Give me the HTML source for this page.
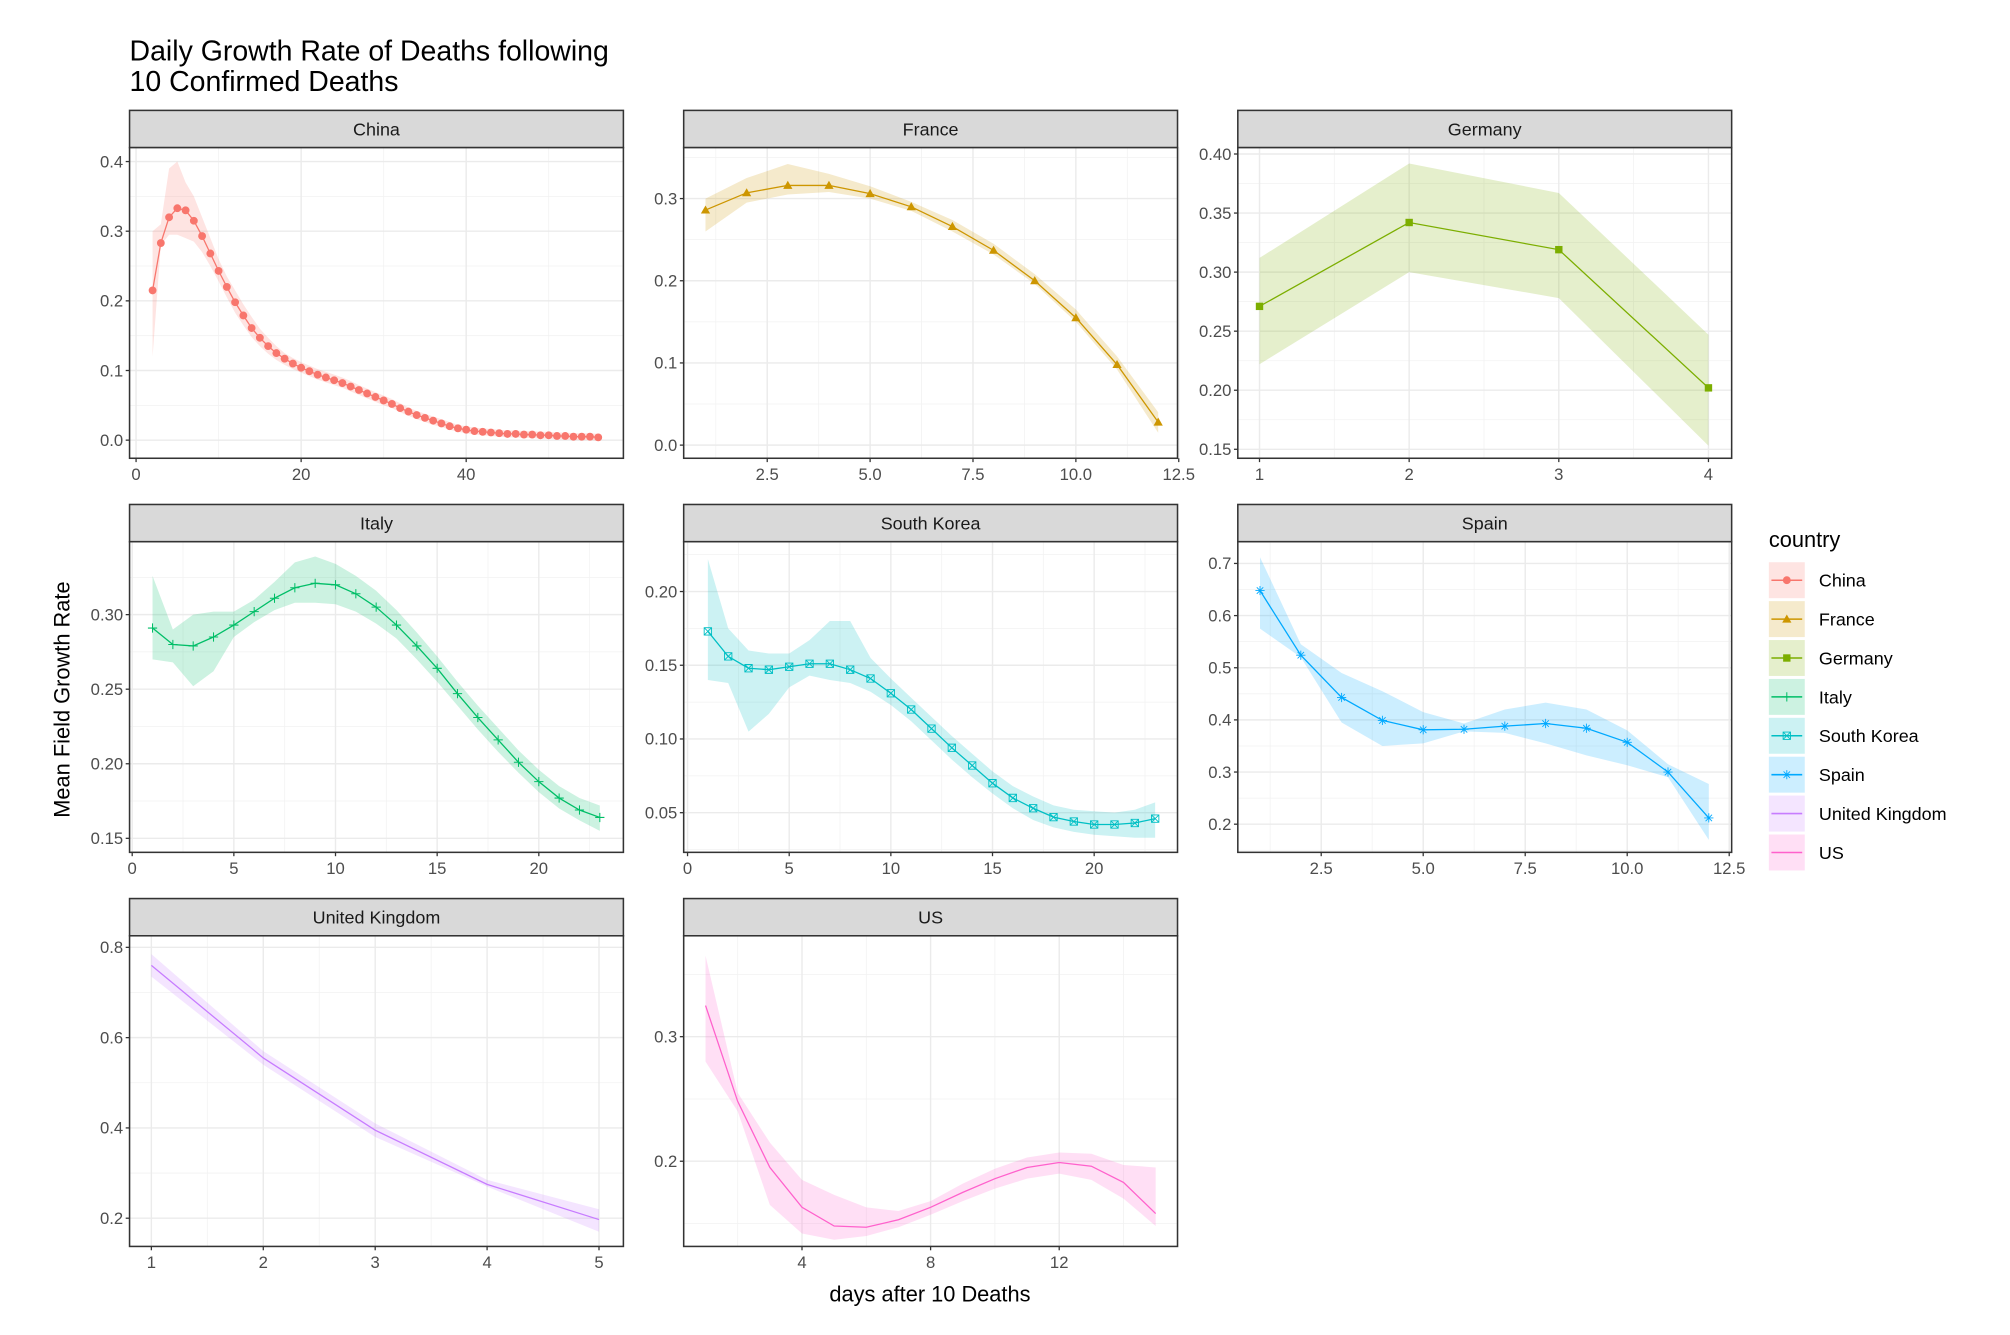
<!DOCTYPE html>
<html><head><meta charset="utf-8"><style>
html,body{margin:0;padding:0;background:#fff}
svg{display:block}
text{font-family:"Liberation Sans",Arial,sans-serif}
</style></head><body>
<svg id="chart" width="2010" height="1335" viewBox="0 0 1567 1040" preserveAspectRatio="none" xmlns="http://www.w3.org/2000/svg">
<text x="101" y="47" font-size="22.2" fill="#000">Daily Growth Rate of Deaths following</text>
<text x="101" y="71" font-size="22.2" fill="#000">10 Confirmed Deaths</text>
<text transform="translate(54,545) rotate(-90)" text-anchor="middle" font-size="17" fill="#000">Mean Field Growth Rate</text>
<text x="725" y="1014" text-anchor="middle" font-size="17" fill="#000">days after 10 Deaths</text>
<g id="panels"></g>
<g id="legend"></g>
</svg>
<script>
const countries = ["China","France","Germany","Italy","South Korea","Spain","United Kingdom","US"];
const colors = ["#F8766D","#CD9600","#7CAE00","#00BE67","#00BFC4","#00A9FF","#C77CFF","#FF61CC"];
const shapes = ["circle","triangle","square","plus","squarex","asterisk","none","none"];

const chinaX = [2,3,4,5,6,7,8,9,10,11,12,13,14,15,16,17,18,19,20,21,22,23,24,25,26,27,28,29,30,31,32,33,34,35,36,37,38,39,40,41,42,43,44,45,46,47,48,49,50,51,52,53,54,55,56];
const chinaY = [0.215,0.283,0.32,0.333,0.33,0.315,0.293,0.268,0.243,0.22,0.198,0.179,0.161,0.147,0.135,0.125,0.117,0.110,0.104,0.099,0.094,0.090,0.086,0.082,0.077,0.072,0.067,0.062,0.057,0.052,0.046,0.041,0.036,0.032,0.028,0.024,0.020,0.017,0.015,0.013,0.012,0.011,0.010,0.009,0.009,0.008,0.008,0.007,0.007,0.006,0.006,0.005,0.005,0.005,0.004];
const chinaLo = [0.12,0.28,0.295,0.295,0.29,0.285,0.27,0.25,0.228,0.205,0.183,0.165,0.148,0.135,0.124,0.115,0.108,0.102,0.097,0.092,0.087,0.083,0.079,0.075,0.070,0.065,0.060,0.055,0.050,0.046,0.040,0.035,0.030,0.026,0.022,0.019,0.015,0.012,0.010,0.008,0.007,0.006,0.005,0.004,0.004,0.003,0.003,0.002,0.002,0.001,0.001,0.0,0.0,0.0,-0.001];
const chinaHi = [0.30,0.31,0.39,0.40,0.37,0.35,0.32,0.29,0.26,0.235,0.215,0.195,0.177,0.16,0.147,0.135,0.125,0.118,0.112,0.107,0.102,0.098,0.094,0.090,0.085,0.079,0.074,0.069,0.064,0.059,0.053,0.047,0.042,0.038,0.034,0.030,0.026,0.022,0.020,0.018,0.017,0.016,0.015,0.014,0.014,0.013,0.013,0.012,0.012,0.011,0.011,0.010,0.010,0.010,0.009];

const franceX = [1,2,3,4,5,6,7,8,9,10,11,12];
const franceY = [0.286,0.307,0.316,0.316,0.306,0.290,0.266,0.237,0.200,0.155,0.098,0.028];
const franceLo = [0.26,0.295,0.305,0.308,0.30,0.285,0.26,0.232,0.196,0.15,0.092,0.015];
const franceHi = [0.30,0.325,0.342,0.33,0.315,0.296,0.274,0.245,0.208,0.165,0.108,0.04];

const germanyX = [1,2,3,4];
const germanyY = [0.271,0.342,0.319,0.202];
const germanyLo = [0.222,0.300,0.278,0.153];
const germanyHi = [0.312,0.392,0.367,0.247];

const italyX = [1,2,3,4,5,6,7,8,9,10,11,12,13,14,15,16,17,18,19,20,21,22,23];
const italyY = [0.291,0.280,0.279,0.285,0.293,0.302,0.311,0.318,0.321,0.320,0.314,0.305,0.293,0.279,0.264,0.247,0.231,0.216,0.201,0.188,0.177,0.169,0.164];
const italyLo = [0.27,0.268,0.252,0.262,0.285,0.295,0.303,0.308,0.308,0.307,0.302,0.294,0.284,0.270,0.255,0.239,0.223,0.208,0.194,0.181,0.170,0.162,0.155];
const italyHi = [0.326,0.29,0.30,0.302,0.302,0.310,0.322,0.335,0.339,0.334,0.326,0.316,0.303,0.288,0.272,0.255,0.239,0.224,0.209,0.196,0.185,0.177,0.172];

const koreaX = [1,2,3,4,5,6,7,8,9,10,11,12,13,14,15,16,17,18,19,20,21,22,23];
const koreaY = [0.173,0.156,0.148,0.147,0.149,0.151,0.151,0.147,0.141,0.131,0.120,0.107,0.094,0.082,0.070,0.060,0.053,0.047,0.044,0.042,0.042,0.043,0.046];
const koreaLo = [0.14,0.138,0.105,0.117,0.135,0.143,0.140,0.138,0.132,0.123,0.112,0.099,0.086,0.074,0.063,0.053,0.045,0.040,0.037,0.035,0.034,0.033,0.033];
const koreaHi = [0.222,0.175,0.160,0.158,0.158,0.167,0.180,0.180,0.155,0.141,0.128,0.115,0.102,0.090,0.078,0.068,0.061,0.055,0.052,0.051,0.050,0.052,0.057];

const spainX = [1,2,3,4,5,6,7,8,9,10,11,12];
const spainY = [0.648,0.524,0.443,0.399,0.381,0.382,0.388,0.393,0.384,0.357,0.300,0.212];
const spainLo = [0.575,0.52,0.395,0.35,0.355,0.378,0.375,0.355,0.332,0.313,0.29,0.17];
const spainHi = [0.712,0.545,0.49,0.455,0.415,0.393,0.42,0.433,0.42,0.38,0.315,0.277];

const ukX = [1,2,3,4,5];
const ukY = [0.76,0.555,0.395,0.275,0.197];
const ukLo = [0.735,0.54,0.38,0.27,0.17];
const ukHi = [0.785,0.57,0.41,0.285,0.22];

const usX = [1,2,3,4,5,6,7,8,9,10,11,12,13,14,15];
const usY = [0.325,0.248,0.195,0.163,0.148,0.147,0.153,0.163,0.175,0.186,0.195,0.199,0.196,0.183,0.158];
const usLo = [0.28,0.24,0.165,0.142,0.137,0.140,0.147,0.157,0.168,0.178,0.186,0.190,0.185,0.17,0.148];
const usHi = [0.365,0.255,0.215,0.185,0.173,0.163,0.160,0.168,0.182,0.194,0.203,0.207,0.206,0.197,0.195];

const xTicksChina = [0,20,40];
const xTicksTwelve = [2.5,5.0,7.5,10.0,12.5];
const xTicksGermany = [1,2,3,4];
const xTicksTwentyThree = [0,5,10,15,20];
const xTicksUK = [1,2,3,4,5];
const xTicksUS = [4,8,12];
const yTicksChina = [0.0,0.1,0.2,0.3,0.4];
const yTicksFrance = [0.0,0.1,0.2,0.3];
const yTicksGermany = [0.15,0.20,0.25,0.30,0.35,0.40];
const yTicksItaly = [0.15,0.20,0.25,0.30];
const yTicksKorea = [0.05,0.10,0.15,0.20];
const yTicksSpain = [0.2,0.3,0.4,0.5,0.6,0.7];
const yTicksUK = [0.2,0.4,0.6,0.8];
const yTicksUS = [0.2,0.3];

const panels = [
 {i:0,x:chinaX,y:chinaY,lo:chinaLo,hi:chinaHi,xd:[-0.79,59.05],yd:[-0.026,0.42],xt:xTicksChina,yt:yTicksChina,yf:1,px:101,py:115},
 {i:1,x:franceX,y:franceY,lo:franceLo,hi:franceHi,xd:[0.47,12.47],yd:[-0.016,0.362],xt:xTicksTwelve,yt:yTicksFrance,yf:1,xf:1,px:533,py:115},
 {i:2,x:germanyX,y:germanyY,lo:germanyLo,hi:germanyHi,xd:[0.855,4.155],yd:[0.1424,0.4054],xt:xTicksGermany,yt:yTicksGermany,yf:2,px:965,py:115},
 {i:3,x:italyX,y:italyY,lo:italyLo,hi:italyHi,xd:[-0.13,24.16],yd:[0.1406,0.3489],xt:xTicksTwentyThree,yt:yTicksItaly,yf:2,px:101,py:422},
 {i:4,x:koreaX,y:koreaY,lo:koreaLo,hi:koreaHi,xd:[-0.19,24.1],yd:[0.0231,0.2338],xt:xTicksTwentyThree,yt:yTicksKorea,yf:2,px:533,py:422},
 {i:5,x:spainX,y:spainY,lo:spainLo,hi:spainHi,xd:[0.456,12.56],yd:[0.146,0.7417],xt:xTicksTwelve,yt:yTicksSpain,yf:1,xf:1,px:965,py:422},
 {i:6,x:ukX,y:ukY,lo:ukLo,hi:ukHi,xd:[0.805,5.218],yd:[0.1375,0.8256],xt:xTicksUK,yt:yTicksUK,yf:1,px:101,py:729},
 {i:7,x:usX,y:usY,lo:usLo,hi:usHi,xd:[0.32,15.68],yd:[0.1316,0.381],xt:xTicksUS,yt:yTicksUS,yf:1,px:533,py:729}
];
const W=385,H=242,SH=29;
const NS="http://www.w3.org/2000/svg";
function mk(tag,attrs,parent){const e=document.createElementNS(NS,tag);for(const k in attrs)e.setAttribute(k,attrs[k]);if(parent)parent.appendChild(e);return e;}
function marker(g,shape,cx,cy,col,s){
 let e;
 if(shape==="circle"){e=mk("circle",{cx:cx,cy:cy,r:s*0.85,fill:col},g);}
 else if(shape==="triangle"){e=mk("polygon",{points:`${cx},${cy-s} ${cx-s},${cy+s*0.75} ${cx+s},${cy+s*0.75}`,fill:col},g);}
 else if(shape==="square"){e=mk("rect",{x:cx-s*0.8,y:cy-s*0.8,width:s*1.6,height:s*1.6,fill:col},g);}
 else if(shape==="plus"){e=mk("path",{d:`M${cx-s},${cy}H${cx+s}M${cx},${cy-s}V${cy+s}`,stroke:col,"stroke-width":0.8,fill:"none"},g);}
 else if(shape==="squarex"){e=mk("path",{d:`M${cx-s*0.8},${cy-s*0.8}h${s*1.6}v${s*1.6}h${-s*1.6}z M${cx-s*0.8},${cy-s*0.8}L${cx+s*0.8},${cy+s*0.8}M${cx+s*0.8},${cy-s*0.8}L${cx-s*0.8},${cy+s*0.8}`,stroke:col,"stroke-width":0.7,fill:"none"},g);}
 else if(shape==="asterisk"){e=mk("path",{d:`M${cx-s},${cy}H${cx+s}M${cx-s*0.7},${cy-s*0.7}L${cx+s*0.7},${cy+s*0.7}M${cx+s*0.7},${cy-s*0.7}L${cx-s*0.7},${cy+s*0.7}M${cx},${cy-s}V${cy+s}`,stroke:col,"stroke-width":0.7,fill:"none"},g);}
 return e;
}
const root=document.getElementById("panels");
panels.forEach(p=>{
 const name=countries[p.i].toLowerCase().replace(/ /g,"-");
 const col=colors[p.i];
 const g=mk("g",{},root);
 
 
 const top=p.py, left=p.px, bot=p.py+H, right=p.px+W;
 const sx=v=>left+(v-p.xd[0])/(p.xd[1]-p.xd[0])*W;
 const sy=v=>bot-(v-p.yd[0])/(p.yd[1]-p.yd[0])*H;
 const st=mk("rect",{x:left,y:top-SH,width:W,height:SH,fill:"#d9d9d9",stroke:"#333","stroke-width":1.2},g);
 
 
 const stt=mk("text",{x:left+W/2,y:top-SH/2+5,"text-anchor":"middle","font-size":14,fill:"#1a1a1a"},g);
 stt.textContent=countries[p.i];
 
 
 mk("rect",{x:left,y:top,width:W,height:H,fill:"#fff"},g);
 for(let k=0;k<p.yt.length+1;k++){
   const step=p.yt[1]-p.yt[0];const v=p.yt[0]-step/2+k*step;
   if(v>p.yd[0]&&v<p.yd[1]) mk("line",{x1:left,x2:right,y1:sy(v),y2:sy(v),stroke:"#f2f2f2","stroke-width":0.6},g);
 }
 for(let k=0;k<p.xt.length+1;k++){
   const step=p.xt[1]-p.xt[0];const v=p.xt[0]-step/2+k*step;
   if(v>p.xd[0]&&v<p.xd[1]) mk("line",{y1:top,y2:bot,x1:sx(v),x2:sx(v),stroke:"#f2f2f2","stroke-width":0.6},g);
 }
 p.yt.forEach(v=>{
   mk("line",{x1:left,x2:right,y1:sy(v),y2:sy(v),stroke:"#ebebeb","stroke-width":1.1},g);
   mk("line",{x1:left-3,x2:left,y1:sy(v),y2:sy(v),stroke:"#333","stroke-width":1},g);
   const t=mk("text",{x:left-5,y:sy(v)+4.5,"text-anchor":"end","font-size":13,fill:"#4d4d4d"},g);
   t.textContent=v.toFixed(p.yf);
   
   
 });
 p.xt.forEach(v=>{
   mk("line",{y1:top,y2:bot,x1:sx(v),x2:sx(v),stroke:"#ebebeb","stroke-width":1.1},g);
   mk("line",{y1:bot,y2:bot+3,x1:sx(v),x2:sx(v),stroke:"#333","stroke-width":1},g);
   const t=mk("text",{x:sx(v),y:bot+17,"text-anchor":"middle","font-size":13,fill:"#4d4d4d"},g);
   t.textContent=p.xf?v.toFixed(1):String(v);
   
   
 });
 let d="";
 p.x.forEach((xv,j)=>{d+=(j?"L":"M")+sx(xv).toFixed(2)+","+sy(p.hi[j]).toFixed(2);});
 for(let j=p.x.length-1;j>=0;j--){d+="L"+sx(p.x[j]).toFixed(2)+","+sy(p.lo[j]).toFixed(2);}
 const rb=mk("path",{d:d+"Z",fill:col,"fill-opacity":0.2,stroke:"none"},g);
 
 
 let ld="";
 p.x.forEach((xv,j)=>{ld+=(j?"L":"M")+sx(xv).toFixed(2)+","+sy(p.y[j]).toFixed(2);});
 const ln=mk("path",{d:ld,fill:"none",stroke:col,"stroke-width":1},g);
 
 
 if(shapes[p.i]!=="none"){
   p.x.forEach((xv,j)=>{
     const m=marker(g,shapes[p.i],sx(xv),sy(p.y[j]),col,3.6);
     
     
   });
 }
 mk("rect",{x:left,y:top,width:W,height:H,fill:"none",stroke:"#333","stroke-width":1.2},g);
});
const lg=document.getElementById("legend");
const lt=mk("text",{x:1379,y:426,"font-size":17,fill:"#000"},lg);
lt.textContent="country";


countries.forEach((c,i)=>{
 const cy=452+i*30.3;
 const eg=mk("g",{},lg);
 
 
 mk("rect",{x:1379,y:cy-14,width:28,height:28,fill:colors[i],"fill-opacity":0.2},eg);
 mk("line",{x1:1381,x2:1405,y1:cy,y2:cy,stroke:colors[i],"stroke-width":1.2},eg);
 if(shapes[i]!=="none") marker(eg,shapes[i],1393,cy,colors[i],3.6);
 const t=mk("text",{x:1418,y:cy+5,"font-size":14,fill:"#000"},eg);
 t.textContent=c;
});
</script>
</body></html>
